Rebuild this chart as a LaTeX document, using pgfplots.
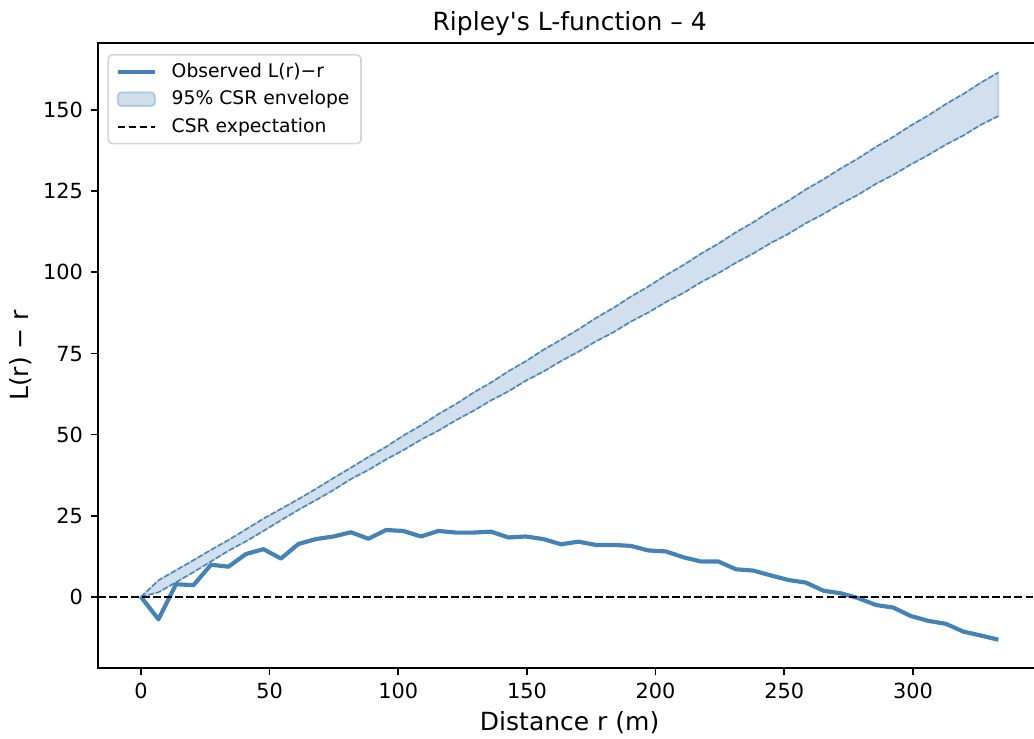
\documentclass[border=0pt]{standalone}
\usepackage{fontspec}
\setmainfont{DejaVu Sans}
\usepackage{pgfplots}
\usepackage{pgfplotstable}
\pgfplotsset{compat=1.18}
\usepgfplotslibrary{fillbetween}
\definecolor{steelblue}{HTML}{4682B4}

% r: distance, obs: observed L(r)-r, up/lo: 95% CSR envelope bounds
\pgfplotstableread{
r     obs    up     lo
0.0   0.0    0.0    0.0
6.8   -6.9   5.1    1.4
13.6  3.9    8.2    4.5
20.4  3.6    11.3   7.6
27.2  9.9    14.5   10.9
34.0  9.3    17.5   14.2
40.8  13.2   20.8   17.1
47.6  14.7   24.1   20.3
54.4  11.8   27.1   23.6
61.2  16.3   30.1   26.8
68.0  17.8   33.3   29.8
74.8  18.6   36.6   32.9
81.6  19.9   39.8   36.3
88.4  17.9   43.1   39.1
95.2  20.6   46.2   42.3
102.0 20.3   49.7   45.2
108.8 18.6   52.8   48.4
115.6 20.3   56.3   51.2
122.4 19.8   59.4   54.4
129.2 19.8   62.9   57.3
136.0 20.1   66.0   60.5
142.8 18.3   69.5   63.3
149.6 18.6   72.6   66.6
156.4 17.8   76.1   69.4
163.2 16.2   79.2   72.6
170.0 17.0   82.4   75.5
176.8 16.0   85.9   78.7
183.6 16.0   89.0   81.5
190.4 15.7   92.5   84.8
197.2 14.3   95.6   87.6
204.0 14.0   99.1   90.8
210.8 12.2   102.2  93.6
217.6 10.9   105.7  96.9
224.4 10.9   108.8  99.7
231.2 8.5    112.3  102.9
238.0 8.1    115.4  105.8
244.8 6.6    118.9  109.0
251.6 5.2    122.0  111.8
258.4 4.4    125.5  115.1
265.2 1.9    128.6  117.9
272.0 1.1    132.0  121.1
278.8 -0.4   135.1  123.9
285.6 -2.5   138.6  127.2
292.4 -3.3   141.7  130.0
299.2 -5.9   145.2  133.2
306.0 -7.4   148.3  136.1
312.8 -8.3   151.8  139.3
319.6 -10.7  154.9  142.1
326.4 -11.9  158.4  145.4
333.2 -13.2  161.5  148.1
}\ldata

\pgfplotsset{
  short line key/.style={legend image code/.code={\draw[##1] (0pt,0pt) -- (18pt,0pt);}},
  short patch key/.style={legend image code/.code={\draw[##1] (0pt,-3.3pt) rectangle (18pt,3.3pt);}},
}

\begin{document}
\begin{tikzpicture}
\begin{axis}[
  at={(0pt,0pt)}, anchor=south west,
  scale only axis, width=452.8pt, height=300pt,
  xmin=-16.7, xmax=349.9, ymin=-21.9, ymax=170.6,
  axis line style={line width=0.8pt, black},
  tick align=outside, major tick length=3.5pt,
  tick style={line width=0.8pt, black},
  xtick pos=left, ytick pos=left,
  xtick={0,50,...,300}, ytick={0,25,...,150},
  /pgf/number format/assume math mode=true,
  ticklabel style={font=\fontsize{10}{12}\selectfont},
  xticklabel style={anchor=north, inner sep=0pt, text height=7.6pt, yshift=-3.5pt},
  yticklabel style={anchor=east, inner sep=0pt, text height=7.6pt, xshift=-3.5pt},
  title={Ripley\textquotesingle s L-function – 4},
  title style={at={(axis description cs:0.5,1.0197)}, anchor=base, inner sep=0pt, yshift=-6pt, font=\fontsize{12}{14}\selectfont},
  xlabel={Distance r (m)},
  xlabel style={at={(axis description cs:0.5,-0.1)}, anchor=base, inner sep=0pt, font=\fontsize{12}{14}\selectfont},
  ylabel={L(r) − r},
  ylabel style={at={(axis description cs:-0.0737,0.5)}, anchor=base, inner sep=0pt, font=\fontsize{12}{14}\selectfont},
  legend cell align=left,
  legend style={at={(axis description cs:0,1)}, anchor=north west, xshift=4.5pt, yshift=-5.3pt,
    draw=black!16, line width=0.8pt, rounded corners=2pt, fill=white, fill opacity=0.8, text opacity=1,
    font=\fontsize{9}{11}\selectfont, inner xsep=3.5pt, inner ysep=2pt, row sep=0.8pt, column sep=5pt},
]
% legend entries
\addlegendimage{short line key, steelblue, line width=2pt}
\addlegendentry{Observed L(r)−r}
\addlegendimage{short patch key, fill=steelblue, fill opacity=0.25, draw=steelblue, draw opacity=0.3, line width=1pt}
\addlegendentry{95\% CSR envelope}
\addlegendimage{short line key, black, line width=1pt, dash pattern=on 3.7pt off 1.6pt}
\addlegendentry{CSR expectation}

% envelope band
\addplot[name path=upper, draw=none, forget plot] table[x=r, y=up]{\ldata};
\addplot[name path=lower, draw=none, forget plot] table[x=r, y=lo]{\ldata};
\addplot[fill=steelblue, fill opacity=0.25, draw=steelblue, draw opacity=0.25, line width=1pt, forget plot]
  fill between[of=upper and lower];
% envelope edges
\addplot[steelblue, line width=0.7pt, dash pattern=on 2.6pt off 1.1pt, forget plot] table[x=r, y=up]{\ldata};
\addplot[steelblue, line width=0.7pt, dash pattern=on 2.6pt off 1.1pt, forget plot] table[x=r, y=lo]{\ldata};
% observed curve
\addplot[steelblue, line width=2pt, line join=round, forget plot] table[x=r, y=obs]{\ldata};
% CSR expectation
\addplot[black, line width=1pt, dash pattern=on 3.7pt off 1.6pt, forget plot] coordinates {(-16.7,0) (349.9,0)};
\end{axis}
\pgfresetboundingbox
\path[use as bounding box] (-47.04pt,-34.08pt) rectangle (449.28pt,320.64pt);
\end{tikzpicture}
\end{document}
